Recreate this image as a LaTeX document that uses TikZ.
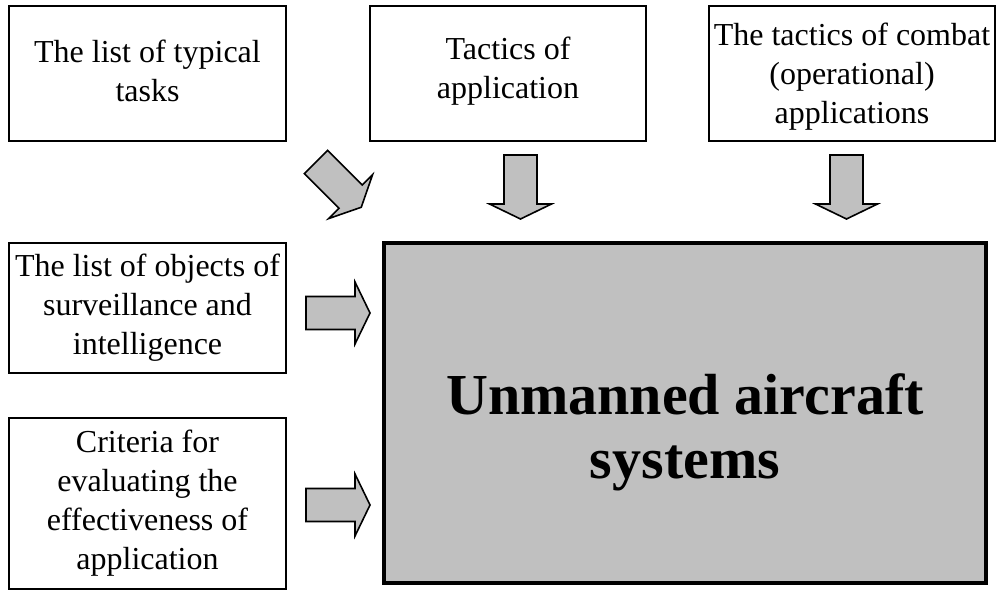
\documentclass[tikz,border=0pt]{standalone}
\usepackage{fontspec}
\setmainfont{Liberation Serif}
\definecolor{panelgray}{HTML}{C0C0C0}
\begin{document}
\begin{tikzpicture}[x=1pt,y=1pt,
  box/.style={draw, line width=2pt, align=center, inner sep=0pt,
    font=\fontsize{32}{39}\selectfont},
  boxlabel/.style={align=center, inner sep=0pt,
    font=\fontsize{32}{39}\selectfont},
  mainbox/.style={draw, line width=4.5pt, fill=panelgray, inner sep=0pt},
  arrowstyle/.style={draw, line width=1.6pt, fill=panelgray, line join=miter},
  blockarrow/.pic={
    \path[arrowstyle] (0,-16.5) -- (49,-16.5) -- (49,-31) -- (64,0)
      -- (49,31) -- (49,16.5) -- (0,16.5) -- cycle;
  }]
\useasboundingbox (0,0) rectangle (996,592);

% input boxes along the top
\node[box, minimum width=277, minimum height=135] (tasks) at (147.5,518.5) {};
\node[boxlabel] (taskstext) at (147.5,521) {The list of typical\\tasks};
\node[box, minimum width=276, minimum height=135] (tactics) at (508,518.5) {};
\node[boxlabel] (tacticstext) at (508,521) {Tactics of\\application};
\node[box, minimum width=286, minimum height=135] (combat) at (852,518.5) {};
\node[boxlabel] (combattext) at (852,515)
  {The tactics of combat\\(operational)\\applications};

% input boxes on the left
\node[box, minimum width=277, minimum height=130] (objects) at (147.5,284)
  {The list of objects of\\surveillance and\\intelligence};
\node[box, minimum width=277, minimum height=171] (criteria) at (147.5,88.5)
  {Criteria for\\evaluating the\\effectiveness of\\application};

% central system block
\node[mainbox, minimum width=602, minimum height=340] (uas) at (685,179) {};
\node[font=\fontsize{58}{64}\selectfont\bfseries, align=center] (uastext)
  at (685,160) {Unmanned aircraft\\systems};

% block arrows feeding the system
\pic[rotate=-45] at (316,430) {blockarrow};
\pic[rotate=-90] at (520.5,437) {blockarrow};
\pic[rotate=-90] at (846.5,437) {blockarrow};
\pic at (306,279) {blockarrow};
\pic at (306,87) {blockarrow};
\end{tikzpicture}
\end{document}
